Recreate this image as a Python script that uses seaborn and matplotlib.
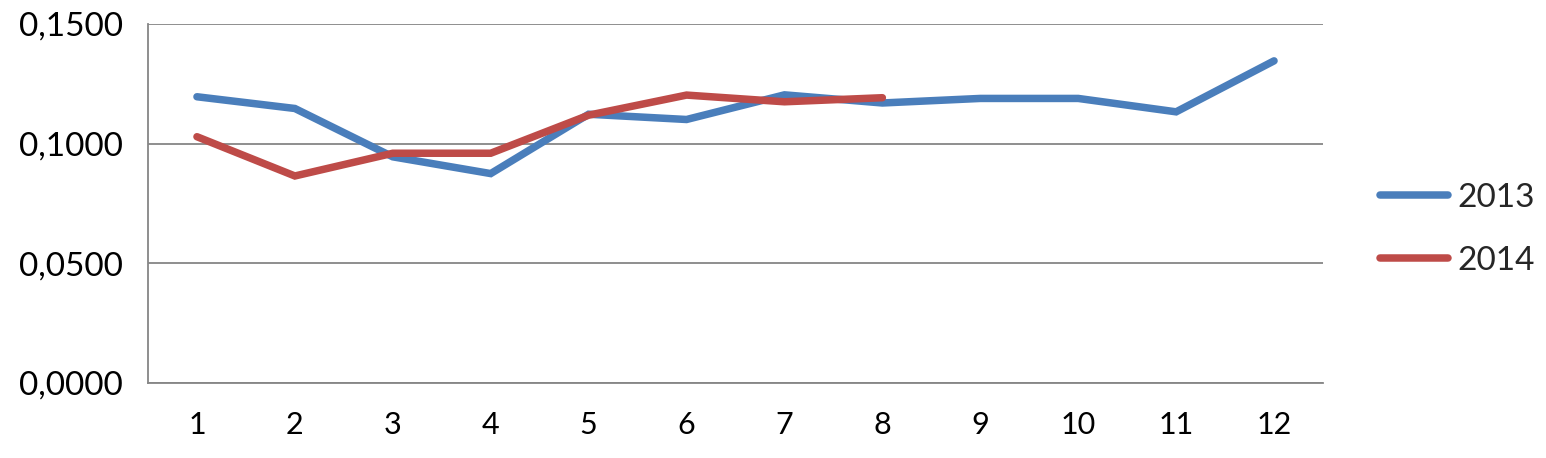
import numpy as np
import pandas as pd
import matplotlib
matplotlib.use("Agg")
import matplotlib.pyplot as plt
import seaborn as sns
from matplotlib.ticker import FuncFormatter, FixedLocator

months = list(range(1, 13))
v2013 = [0.1196, 0.1147, 0.0945, 0.0875, 0.1123, 0.1101, 0.1204, 0.1170, 0.1189, 0.1189, 0.1133, 0.1346]
v2014 = [0.1029, 0.0865, 0.0960, 0.0960, 0.1119, 0.1203, 0.1175, 0.1192]
series = ["2013", "2014"]
colors = ["#4A7EBB", "#BE4B48"]
yticks = [0.0, 0.05, 0.10, 0.15]

df = pd.concat([
    pd.DataFrame({"month": months[:len(v2013)], "value": v2013, "year": series[0]}),
    pd.DataFrame({"month": months[:len(v2014)], "value": v2014, "year": series[1]}),
])

sns.set_theme(style="white")
plt.rcParams['font.family'] = ['Lato', 'DejaVu Sans']

fig = plt.figure(figsize=(15.46, 4.58), dpi=100)
ax = fig.add_axes([148/1546, 1-383/458, (1323-148)/1546, (383-24)/458])

sns.lineplot(data=df, x="month", y="value", hue="year", palette=colors,
             linewidth=5.4, ax=ax, legend=True, estimator=None,
             solid_capstyle="round", solid_joinstyle="miter")

ax.set_xlim(0.5, 12.5)
ax.set_ylim(0, 0.15)
ax.set_xlabel("")
ax.set_ylabel("")

grid_c = "#868686"
ax.yaxis.set_major_locator(FixedLocator(yticks))
ax.yaxis.set_major_formatter(FuncFormatter(lambda v, p: f"{v:.4f}".replace(".", ",")))
ax.set_xticks(months)
ax.set_xticks([m + 0.5 for m in [0] + months], minor=True)
ax.tick_params(axis="x", which="major", length=0, labelsize=22, pad=20, colors="black")
ax.tick_params(axis="x", which="minor", length=10, width=1.3, color=grid_c, direction="out")
ax.tick_params(axis="y", which="major", length=10, width=1.3, color=grid_c, direction="out",
               labelsize=24, pad=8, labelcolor="black")
ax.grid(axis="y", color=grid_c, linewidth=1.3)
ax.set_axisbelow(True)
for s in ["top", "right"]:
    ax.spines[s].set_visible(False)
for s in ["left", "bottom"]:
    ax.spines[s].set_color(grid_c)
    ax.spines[s].set_linewidth(1.3)

leg = ax.legend(loc="center left", bbox_to_anchor=(1.0485, 0.4276), frameon=False,
                fontsize=24, handlelength=2.05, handletextpad=0.28, labelspacing=1.0,
                borderpad=0, borderaxespad=0)
for h in leg.get_lines():
    h.set_linewidth(5.4)
    h.set_solid_capstyle("round")

fig.savefig("out.png", dpi=100)
